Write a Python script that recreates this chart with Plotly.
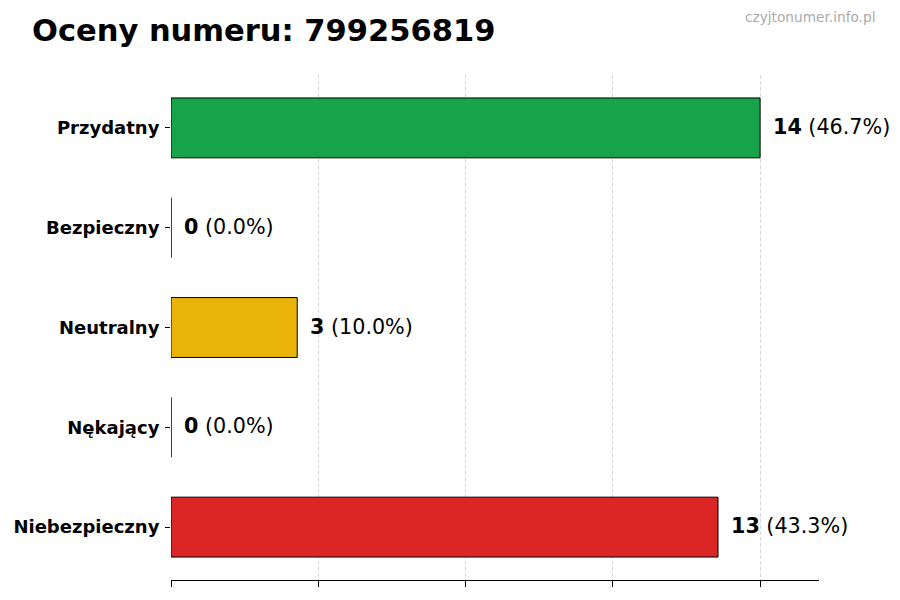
import plotly.graph_objects as go
import numpy as np

categories = ["Przydatny", "Bezpieczny", "Neutralny", "Nękający", "Niebezpieczny"]
counts = [14, 0, 3, 0, 13]
percents = [46.7, 0.0, 10.0, 0.0, 43.3]
colors = ["#16a34a", "#16a34a", "#eab308", "#dc2626", "#dc2626"]

title_text = "Oceny numeru: 799256819"
watermark = "czyjtonumer.info.pl"

font_family = "DejaVu Sans"

# the page adds an 8px body margin, so the plot box is set in figure pixels
W, H = 900, 600
L, R, T, B = 163, 89, 67, 28
plot_w = W - L - R
plot_h = H - T - B

fig = go.Figure()

fig.add_trace(go.Bar(
    x=counts,
    y=categories,
    orientation="h",
    width=0.6,
    marker=dict(color=colors, line=dict(color="black", width=1)),
    hoverinfo="skip",
))

# value labels next to each bar
for cat, n, p in zip(categories, counts, percents):
    fig.add_annotation(
        x=n, y=cat, xref="x", yref="y",
        text=f"<b>{n}</b> ({p:.1f}%)",
        showarrow=False, xanchor="left", yanchor="middle",
        xshift=11, yshift=1,
        font=dict(family=font_family, size=20.7, color="black"),
    )

xmax = max(counts)
fig.update_layout(
    width=W, height=H,
    paper_bgcolor="white", plot_bgcolor="white",
    margin=dict(l=L, r=R, t=T, b=B),
    showlegend=False,
    title=dict(
        text=f"<b>{title_text}</b>",
        x=24 / W, xanchor="left", xref="container",
        y=1 - 22 / H, yanchor="middle", yref="container",
        font=dict(family=font_family, size=30.5, color="black"),
    ),
    xaxis=dict(
        range=[0, xmax * 1.1],
        tickvals=list(np.linspace(0, xmax, 5)),
        showticklabels=False,
        ticks="outside", ticklen=6, tickcolor="black",
        showline=True, linecolor="black", linewidth=1,
        showgrid=True, gridcolor="#d9d9d9", griddash="4px,2px", gridwidth=1,
        zeroline=False, layer="above traces", automargin=False,
    ),
    yaxis=dict(
        categoryorder="array", categoryarray=categories[::-1],
        range=[-0.53, 4.53],
        ticks="outside", ticklen=5, tickcolor="black",
        ticklabelstandoff=2,
        showline=False, showgrid=False, zeroline=False,
        automargin=False,
        tickfont=dict(family=font_family, size=18, color="black", weight="bold"),
    ),
)

fig.add_annotation(
    text=watermark, xref="paper", yref="paper",
    x=(869 - L) / plot_w, y=1 + (T - 9) / plot_h,
    xanchor="right", yanchor="middle", showarrow=False,
    font=dict(family=font_family, size=13.7, color="#aaaaaa"),
)

fig.write_html("out.html")
